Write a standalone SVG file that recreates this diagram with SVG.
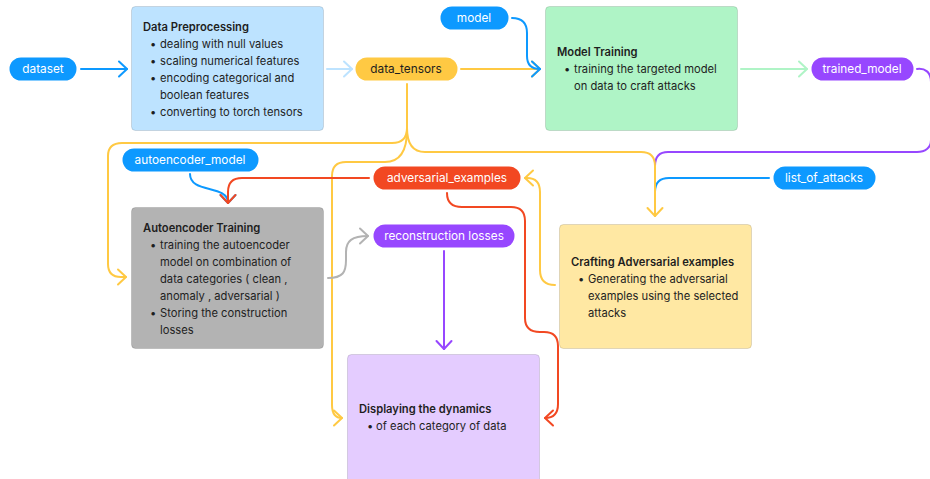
<svg xmlns="http://www.w3.org/2000/svg" width="930" height="479" viewBox="0 0 930 479">
<style>
text{font-family:Inter,"Liberation Sans",sans-serif;font-size:11.2px;fill:#1e1e1e}
.pl{fill:#fff;text-anchor:middle;font-size:11.8px}
.pd{fill:#1e1e1e;text-anchor:middle;font-size:11.8px}
.t{font-weight:600}
.box{stroke:rgba(0,0,0,0.12);stroke-width:1}
.c{fill:none;stroke-width:2;stroke-linecap:round;stroke-linejoin:round}
.blue{stroke:#0d99ff}.lblue{stroke:#bde3ff}.yel{stroke:#ffc943}.grn{stroke:#aff4c6}.pur{stroke:#9747ff}.red{stroke:#f24822}.gry{stroke:#b3b3b3}
</style>
<defs>
<marker id="mb" markerUnits="userSpaceOnUse" viewBox="-10 -10 12 20" refX="0" refY="0" markerWidth="12" markerHeight="20" orient="auto"><path d="M-8,-7.5 L0,0 L-8,7.5" fill="none" stroke="#0d99ff" stroke-width="2" stroke-linecap="round" stroke-linejoin="round"/></marker>
<marker id="mlb" markerUnits="userSpaceOnUse" viewBox="-10 -10 12 20" refX="0" refY="0" markerWidth="12" markerHeight="20" orient="auto"><path d="M-8,-7.5 L0,0 L-8,7.5" fill="none" stroke="#bde3ff" stroke-width="2" stroke-linecap="round" stroke-linejoin="round"/></marker>
<marker id="my" markerUnits="userSpaceOnUse" viewBox="-10 -10 12 20" refX="0" refY="0" markerWidth="12" markerHeight="20" orient="auto"><path d="M-8,-7.5 L0,0 L-8,7.5" fill="none" stroke="#ffc943" stroke-width="2" stroke-linecap="round" stroke-linejoin="round"/></marker>
<marker id="mg" markerUnits="userSpaceOnUse" viewBox="-10 -10 12 20" refX="0" refY="0" markerWidth="12" markerHeight="20" orient="auto"><path d="M-8,-7.5 L0,0 L-8,7.5" fill="none" stroke="#aff4c6" stroke-width="2" stroke-linecap="round" stroke-linejoin="round"/></marker>
<marker id="mp" markerUnits="userSpaceOnUse" viewBox="-10 -10 12 20" refX="0" refY="0" markerWidth="12" markerHeight="20" orient="auto"><path d="M-8,-7.5 L0,0 L-8,7.5" fill="none" stroke="#9747ff" stroke-width="2" stroke-linecap="round" stroke-linejoin="round"/></marker>
<marker id="mr" markerUnits="userSpaceOnUse" viewBox="-10 -10 12 20" refX="0" refY="0" markerWidth="12" markerHeight="20" orient="auto"><path d="M-8,-7.5 L0,0 L-8,7.5" fill="none" stroke="#f24822" stroke-width="2" stroke-linecap="round" stroke-linejoin="round"/></marker>
<marker id="mgr" markerUnits="userSpaceOnUse" viewBox="-10 -10 12 20" refX="0" refY="0" markerWidth="12" markerHeight="20" orient="auto"><path d="M-8,-7.5 L0,0 L-8,7.5" fill="none" stroke="#b3b3b3" stroke-width="2" stroke-linecap="round" stroke-linejoin="round"/></marker>
</defs>
<rect width="930" height="479" fill="#fff"/>

<g id="connectors">
<path class="c blue" d="M81,69 L127,69" marker-end="url(#mb)"/>
<path class="c lblue" d="M327,69 L352,69" marker-end="url(#mlb)"/>
<path class="c yel" d="M461,69 L540,69" marker-end="url(#my)"/>
<path class="c blue" d="M512,18 Q527,18 527,33 L527,56 Q527,69 540,69" marker-end="url(#mb)"/>
<path class="c grn" d="M741,69 L807,69" marker-end="url(#mg)"/>
<path class="c pur" d="M917,69 C925,68 931,72 931,82 L931,140 C931,148 925,152 917,152 L668,152 Q655,152 655,166"/>
<path class="c blue" d="M769,178 L669,178 Q655,178 655,192"/>
<path class="c yel" d="M407,84 L407,128 Q407,143 392,143 L122,143 Q108,143 108,156 L108,264 Q108,277 121,277 L126,277" marker-end="url(#my)"/>
<path class="c yel" d="M407,130 Q407,162 385,162 L346,162 Q332,162 332,176 L332,405 Q332,418 342,418" marker-end="url(#my)"/>
<path class="c yel" d="M407,128 Q407,152 425,152 L641,152 Q655,152 655,166 L655,216" marker-end="url(#my)"/>
<path class="c blue" d="M190,174 C190,194 228,184 228,203" marker-end="url(#mb)"/>
<path class="c red" d="M369,178 L242,178 Q228,178 228,192 L228,203" marker-end="url(#mr)"/>
<path class="c red" d="M447,193 Q447,207 462,207 L511,207 Q525,207 525,221 L525,318 Q525,332 540,332 L544,332 Q558,332 558,346 L558,404 Q558,418 545,418" marker-end="url(#mr)"/>
<path class="c yel" d="M555,285 Q540,285 540,270 L540,192 Q540,178 527,178 L525,178" marker-end="url(#my)"/>
<path class="c gry" d="M328,278 C343,278 346,272 346,260 L346,252 C346,241 352,236 368,236" marker-end="url(#mgr)"/>
<path class="c pur" d="M444,251 L444,349" marker-end="url(#mp)"/>
</g>

<g id="dataset"><rect x="9.5" y="57.5" width="67" height="23" rx="11.5" fill="#0d99ff"/><text class="pl" x="43" y="73.2">dataset</text></g>

<g id="data-preprocessing"><rect class="box" x="131.5" y="6.5" width="192" height="124" rx="4" fill="#bde3ff"/>
<text class="t" x="143" y="31">Data Preprocessing</text>
<text x="150" y="48">•</text><text x="160" y="48">dealing with null values</text>
<text x="150" y="65">•</text><text x="160" y="65">scaling numerical features</text>
<text x="150" y="82">•</text><text x="160" y="82">encoding categorical and</text>
<text x="160" y="99">boolean features</text>
<text x="150" y="116">•</text><text x="160" y="116">converting to torch tensors</text>
</g>

<g id="data-tensors"><rect x="355.5" y="57.5" width="102" height="23" rx="11.5" fill="#ffc943"/><text class="pd" x="406" y="73.2">data_tensors</text></g>

<g id="model"><rect x="440.5" y="6.5" width="68" height="23" rx="11.5" fill="#0d99ff"/><text class="pl" x="474" y="22.2">model</text></g>

<g id="model-training"><rect class="box" x="545.5" y="6.5" width="192" height="124" rx="4" fill="#aff4c6"/>
<text class="t" x="557" y="56">Model Training</text>
<text x="564" y="73">•</text><text x="574" y="73">training the targeted model</text>
<text x="574" y="90">on data to craft attacks</text>
</g>

<g id="trained-model"><rect x="811.5" y="57.5" width="102" height="23" rx="11.5" fill="#9747ff"/><text class="pl" x="862" y="73.2">trained_model</text></g>

<g id="autoencoder-model"><rect x="122.5" y="148.5" width="136" height="23" rx="11.5" fill="#0d99ff"/><text class="pl" x="190" y="164.2">autoencoder_model</text></g>

<g id="adversarial-examples"><rect x="373.5" y="166.5" width="147" height="23" rx="11.5" fill="#f24822"/><text class="pl" x="447" y="182.2">adversarial_examples</text></g>

<g id="list-of-attacks"><rect x="773.5" y="166.5" width="102" height="23" rx="11.5" fill="#0d99ff"/><text class="pl" x="824" y="182.2">list_of_attacks</text></g>

<g id="autoencoder-training"><rect class="box" x="131.5" y="207.5" width="192" height="141" rx="4" fill="#b3b3b3"/>
<text class="t" x="143" y="232">Autoencoder Training</text>
<text x="150" y="249">•</text><text x="160" y="249">training the autoencoder</text>
<text x="160" y="266">model on combination of</text>
<text x="160" y="283">data categories ( clean ,</text>
<text x="160" y="300">anomaly , adversarial )</text>
<text x="150" y="317">•</text><text x="160" y="317">Storing the construction</text>
<text x="160" y="334">losses</text>
</g>

<g id="reconstruction-losses"><rect x="373.5" y="224.5" width="141" height="23" rx="11.5" fill="#9747ff"/><text class="pl" x="444" y="240.2">reconstruction losses</text></g>

<g id="crafting"><rect class="box" x="559.5" y="224.5" width="192" height="124" rx="4" fill="#ffe8a3"/>
<text class="t" x="571" y="266">Crafting Adversarial examples</text>
<text x="578" y="283">•</text><text x="588" y="283">Generating the adversarial</text>
<text x="588" y="300">examples using the selected</text>
<text x="588" y="317">attacks</text>
</g>

<g id="displaying"><rect class="box" x="347.5" y="354.5" width="192" height="130" rx="4" fill="#e4ccff"/>
<text class="t" x="359" y="413">Displaying the dynamics</text>
<text x="367" y="430">•</text><text x="376" y="430">of each category of data</text>
</g>
</svg>
